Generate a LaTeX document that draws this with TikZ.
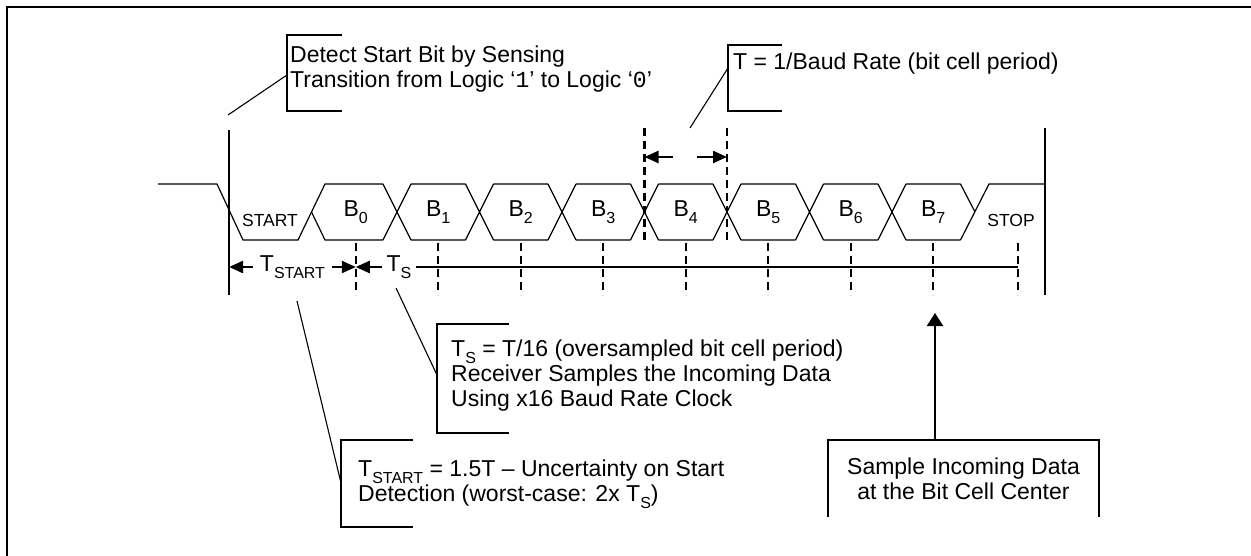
\documentclass[tikz,border=0pt]{standalone}
\usepackage{fontspec}
\setmainfont{Liberation Sans}
\setmonofont{Liberation Mono}
\usetikzlibrary{arrows.meta}
\newcommand{\lowsub}[1]{\raisebox{-0.28em}[\height][0pt]{\fontsize{16}{16}\selectfont #1}}

\begin{document}
\begin{tikzpicture}[x=1pt,y=-1pt,
  wave/.style={line width=1.2pt},
  bound/.style={line width=2.3pt},
  tick/.style={line width=2.3pt,dash pattern=on 8pt off 5pt},
  leader/.style={line width=1.1pt},
  dim/.style={line width=2.3pt,-{Triangle[length=14pt,width=12pt]}},
  txt/.style={font=\fontsize{23}{25}\selectfont,inner sep=0pt,align=left},
  small/.style={font=\fontsize{17.5}{18}\selectfont,inner sep=0pt}
  ]
  \useasboundingbox (0,0) rectangle (1251,556);
  \draw[bound] (7,556) -- (7,7) -- (1251,7);

  \draw[wave] (158,184) -- (217,184) -- (243,240) -- (298,240) -- (325,184) -- (383,184);
  \draw[wave] (311.5,212) -- (325,240) -- (383,240);
  \foreach \i in {0,...,6} {
    \pgfmathsetmacro{\c}{397+82.5*\i}
    \draw[wave] (\c-14,184) -- (\c+14,240) (\c-14,240) -- (\c+14,184)
      (\c+14,184) -- (\c+68.5,184) (\c+14,240) -- (\c+68.5,240);
  }
  \draw[wave] (960.5,184) -- (975,212);
  \draw[wave] (960.5,240) -- (989,184) -- (1045,184);

  \node[small,anchor=base] (start) at (270,227) {START};
  \node[small,anchor=base] (stop) at (1011,227) {STOP};
  \foreach \i in {0,...,7}
    \node[txt,anchor=base] (b\i) at (355.75+82.5*\i,217) {B\lowsub{\i}};

  \draw[bound] (229,130) -- (229,295);
  \draw[bound] (1045,128) -- (1045,295);
  \draw[tick] (644.5,128) -- (644.5,243);
  \draw[tick] (727,128) -- (727,243);
  \foreach \i in {0,...,7}
    \draw[tick] (355.75+82.5*\i,243) -- (355.75+82.5*\i,295);
  \draw[tick] (1018,243) -- (1018,295);

  \coordinate (pl) at (644.5,157);
  \coordinate (pr) at (727,157);
  \draw[dim] (673,157) -- (pl);
  \draw[dim] (697,157) -- (pr);

  \coordinate (lb) at (229,267);
  \coordinate (mid) at (355.75,267);
  \coordinate (last) at (1018,267);
  \node[txt,inner xsep=7pt] (tstart) at (292.5,264) {T\lowsub{START}};
  \node[txt,inner xsep=4pt] (ts) at (399,264) {T\lowsub{S}};
  \draw[dim] (tstart.west |- lb) -- (lb);
  \draw[dim] (tstart.east |- lb) -- (mid);
  \draw[dim] (ts.west |- mid) -- (mid);
  \draw[line width=2.3pt] (ts.east |- last) -- (last);

  \node[txt,anchor=north west] (detect) at (290,46)
    {Detect Start Bit by Sensing\\Transition from Logic ‘\texttt{1}’ to Logic ‘\texttt{0}’};
  \draw[bound] (342,35) -- (287,35) -- (287,111) -- (342,111);
  \coordinate (detectpin) at (287,75);
  \draw[leader] (detectpin) -- (228,115);

  \node[txt,anchor=north west] (period) at (733,53) {T = 1/Baud Rate (bit cell period)};
  \draw[bound] (782,45) -- (728,45) -- (728,111) -- (782,111);
  \coordinate (periodpin) at (728,68);
  \draw[leader] (periodpin) -- (690,128);

  \node[txt,anchor=north west] (oversample) at (451,340)
    {T\lowsub{S} = T/16 (oversampled bit cell period)\\Receiver Samples the Incoming Data\\Using x16 Baud Rate Clock};
  \draw[bound] (509,324) -- (437,324) -- (437,433) -- (509,433);
  \coordinate (oversamplepin) at (437,375);
  \draw[leader] (oversamplepin) -- (396,288);

  \node[txt,anchor=north west] (uncertainty) at (358,460)
    {T\lowsub{START} = 1.5T -- Uncertainty on Start\\Detection (worst-case: 2x T\lowsub{S})};
  \draw[bound] (413,440) -- (341,440) -- (341,527) -- (413,527);
  \coordinate (uncertaintypin) at (341,483);
  \draw[leader] (uncertaintypin) -- (297,301);

  \node[txt,align=center,anchor=north] (center) at (963.5,458)
    {Sample Incoming Data\\at the Bit Cell Center};
  \draw[bound] (828,517) |- (1099,440) -- (1099,517);
  \coordinate (centerpin) at (935,440);
  \draw[bound,-{Triangle[length=13pt,width=16pt]}] (centerpin) -- (935,313);
\end{tikzpicture}
\end{document}
